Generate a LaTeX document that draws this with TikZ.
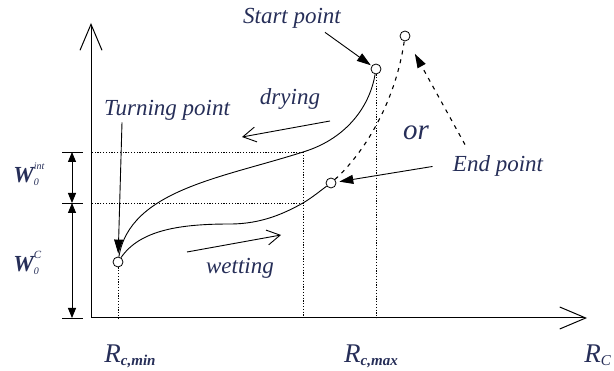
\documentclass[tikz,border=0pt]{standalone}
\usepackage{fontspec}
\setmainfont{Liberation Serif}
\usetikzlibrary{arrows.meta,calc}
\definecolor{labc}{RGB}{38,46,88}
\newcommand{\rsub}[2]{R\raisebox{-3pt}{\fontsize{15}{16}\selectfont#1#2}}

\begin{document}
\begin{tikzpicture}[
    x=1pt,y=-1pt,
    line width=0.9pt,
    lbl/.style={font=\fontsize{23}{26}\selectfont\itshape,text=labc,inner sep=1pt,anchor=base},
    rlbl/.style={font=\fontsize{27}{29}\selectfont\itshape,text=labc,inner sep=1pt,anchor=base},
    pt/.style={draw,circle,minimum size=10pt,inner sep=0pt,line width=0.8pt},
    guide/.style={line width=0.8pt,dash pattern=on 1.2pt off 1.6pt},
    axis/.style={line width=1pt,-{Straight Barb[length=26pt,width=22pt]}},
    flow/.style={line width=0.9pt,-{Straight Barb[length=13pt,width=15pt]}},
    ptr/.style={line width=0.9pt,-{Triangle[length=14pt,width=9pt]}},
    dim/.style={line width=0.9pt,{Triangle[length=10pt,width=8pt]}-{Triangle[length=10pt,width=8pt]}},
    dashline/.style={line width=1.1pt,dash pattern=on 4pt off 5pt}
]
\useasboundingbox (0,0) rectangle (614,371);

\coordinate (o) at (91,318);
\coordinate (ytip) at (91,23);
\coordinate (xtip) at (587,318);
\draw[axis] (o) -- (ytip);
\draw[axis] (o) -- (xtip);

\node[pt] (start) at (376,69) {};
\node[pt] (turn) at (118,262) {};
\node[pt] (endlow) at (331,183) {};
\node[pt] (endup) at (405,36) {};
\coordinate (dry) at (303,152);
\coordinate (wet) at (303,203);

\draw (start) .. controls (369,110) and (343,140) .. (dry)
  .. controls (222,178) and (130,190) .. (turn);
\draw (turn) .. controls (140,230) and (180,224) .. (230,224)
  .. controls (262,224) and (285,213) .. (wet)
  .. controls (313,197) and (320,191) .. (endlow);
\draw[dashline] (endlow) .. controls (362,155) and (395,105) .. (endup);

\draw[guide] (dry) -- (dry -| o);
\draw[guide] (wet) -- (wet -| o);
\draw[guide] (dry) -- (dry |- o);
\draw[guide] (start) -- (start |- o);
\draw[guide] (turn) -- (turn |- o);

\coordinate (d1) at (72,152);
\coordinate (d2) at (72,203);
\coordinate (d3) at (72,318);
\draw[dim] (d1) -- (d2);
\draw[dim] (d2) -- (d3);
\foreach \c in {d1,d2,d3}
  \draw ([xshift=-10pt]\c) -- ([xshift=11pt]\c);

\node[lbl] (lstart) at (292,24) {Start point};
\node[lbl] (lturn) at (167,116) {Turning point};
\node[lbl] (ldry) at (290,105) {drying};
\node[lbl] (lwet) at (240,274) {wetting};
\node[lbl,font=\fontsize{29}{30}\selectfont\itshape] (lor) at (416,140) {or};
\node[lbl] (lend) at (498,172) {End point};

\draw[ptr,shorten >=1pt] ([xshift=33pt,yshift=-2pt]lstart.south) -- (start);
\draw[ptr,shorten >=3pt] ([xshift=-45pt]lturn.south) -- (turn);
\draw[ptr,shorten >=3pt] ([xshift=-19pt]lend.west) -- (endlow);
\draw[ptr,dashline,shorten >=15pt] ([xshift=-33pt,yshift=10pt]lend.north) -- (endup);

\coordinate (dA) at (330,121);
\coordinate (dB) at (242,137);
\coordinate (wA) at (187,252);
\coordinate (wB) at (281,235);
\draw[flow] (dA) -- (dB);
\draw[flow] (wA) -- (wB);

\node[lbl,anchor=base west] (wint) at (12,183)
  {\bfseries W\makebox[0pt][l]{\raisebox{13pt}{\fontsize{10}{10}\selectfont\mdseries int}}\raisebox{-3pt}{\fontsize{10}{10}\selectfont\mdseries 0}};
\node[lbl,anchor=base west] (wc) at (12,272)
  {\bfseries W\makebox[0pt][l]{\raisebox{13pt}{\fontsize{11}{11}\selectfont\mdseries C}}\raisebox{-3pt}{\fontsize{10}{10}\selectfont\mdseries 0}};

\node[rlbl] (rmin) at (130,363) {\rsub{\bfseries}{c,min}};
\node[rlbl] (rmax) at (371,363) {\rsub{\bfseries}{c,max}};
\node[rlbl,anchor=base west] (rc) at (583,363) {\rsub{}{C}};
\end{tikzpicture}
\end{document}
